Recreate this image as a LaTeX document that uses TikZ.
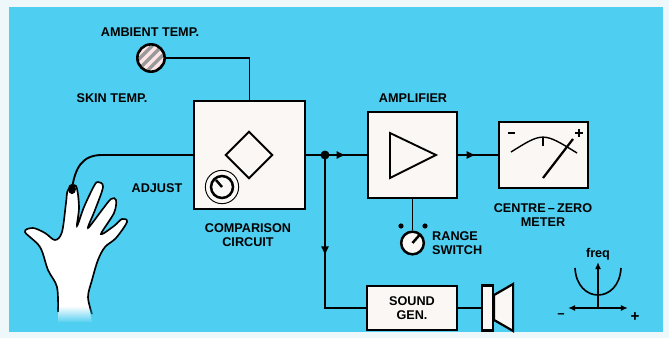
\documentclass[tikz,border=0pt]{standalone}
\usepackage{fontspec}
\setmainfont{Liberation Sans}
\usetikzlibrary{arrows.meta,shapes.geometric,decorations.markings,fadings}
\definecolor{panel}{RGB}{78,206,240}
\definecolor{rim}{RGB}{238,247,250}
\definecolor{paper}{RGB}{250,247,244}
\tikzset{
  blk/.style={draw,line width=1.9pt,fill=paper,inner sep=0pt},
  lbl/.style={font=\fontsize{10.8}{12.5}\selectfont\bfseries,align=center,inner sep=0pt},
  wire/.style={line width=1.6pt},
  midarrow/.style={postaction={decorate},decoration={markings,mark=at position #1 with {\arrow{Latex[length=8pt,width=7pt]}}}},
}
\begin{document}
\begin{tikzpicture}[x=0.03cm,y=-0.03cm]
        \useasboundingbox (0,0) rectangle (669,338);
        %% Panel
        \fill[rim] (0,0) rectangle (669,338);
        \fill[panel] (9,7) rectangle (663,332);
        %% Blocks
        \node[blk,minimum width=3.33cm,minimum height=3.24cm] (cmp) at (249.5,155) {};
        \node[blk,minimum width=2.67cm,minimum height=2.58cm] (amp) at (412.5,155) {};
        \node[blk,minimum width=2.67cm,minimum height=1.98cm] (mtr) at (543.5,155) {};
        \node[blk,lbl,minimum width=2.7cm,minimum height=1.32cm] (sg) at (412,308) {SOUND\\GEN.};
        \node[blk,minimum width=0.33cm,minimum height=1.35cm] (spk) at (487.5,308) {};
        \draw[line width=1.9pt,fill=paper] (spk.east) ++(0,-13) -- ++(19,-11) -- ++(0,47) -- ++(-19,-11) -- cycle;
        %% Sensor
        \node[circle,draw,line width=2.2pt,fill=gray!80,minimum size=0.82cm,inner sep=0pt,
          path picture={\foreach \k in {-16,-6,4,14}
            \draw[white!90!red,line width=3pt,shift={(path picture bounding box.center)}] (\k-20,20) -- ++(40,-40);}] (amb) at (151,58) {};
        %% Comparison circuit
        \node[draw,diamond,line width=1.6pt,minimum width=1.42cm,minimum height=1.42cm,inner sep=0pt] (cmpr) at (249,155) {};
        \node[circle,draw,line width=0.8pt,minimum size=1.0cm,inner sep=0pt] (adj) at (222,187) {};
        \node[circle,draw,line width=2.1pt,minimum size=0.66cm,inner sep=0pt] (adjk) at (adj.center) {};
        \draw[line width=2.1pt] (adj.center) -- ++(-6,-7);
        %% Amplifier
        \draw[line width=1.6pt] (390,133) -- (436,155) -- (390,178) -- cycle;
        \node[circle,draw,line width=2.1pt,fill=paper,minimum size=0.68cm,inner sep=0pt] (rng) at (412.5,243) {};
        \draw[line width=2.1pt] (rng.center) -- ++(7,-8);
        \fill (401,226) circle[radius=2.2pt] (425,226) circle[radius=2.2pt];
        %% Meter face
        \draw[line width=1.2pt] (511,152) .. controls (543,132) .. (577,153);
        \draw[line width=1.4pt] (543,138) -- (543,146);
        \draw[line width=1.9pt] (543,178) -- (573,139);
        \draw[line width=1.5pt] (508,133) -- (515,133);
        \draw[line width=1.5pt] (575,133) -- (583,133) (579,129) -- (579,137);
        %% Hand
        \fill[white] plot[smooth,tension=0.55] coordinates {
          (58,322) (57,287) (48,270) (40,247) (25,232) (33,228) (45,233) (55,240)
          (62,232) (66,203) (68,190) (76,186) (79,207) (77,226)
          (84,207) (94,186) (98,182) (103,187) (95,210) (88,228)
          (102,210) (111,199) (116,200) (114,213) (101,234)
          (114,226) (122,219) (127,222) (116,238) (105,247)
          (98,260) (92,280) (88,297) (92,322)} -- cycle;
        \draw[line width=1.4pt] plot[smooth,tension=0.55] coordinates {
          (58,312) (57,287) (48,270) (40,247) (25,232) (33,228) (45,233) (55,240)
          (62,232) (66,203) (68,190) (76,186) (79,207) (77,226)
          (84,207) (94,186) (98,182) (103,187) (95,210) (88,228)
          (102,210) (111,199) (116,200) (114,213) (101,234)
          (114,226) (122,219) (127,222) (116,238) (105,247)
          (98,260) (92,280) (88,297) (92,314)};
        \fill[panel,path fading=north] (50,306) rectangle (100,323);
        \coordinate (tip) at (72,189);
        \fill (tip) ellipse[x radius=3.4pt,y radius=4.4pt];
        %% Wires
        \coordinate (jn) at (325,155);
        \draw[wire] (amb.east) -| (cmp.north);
        \draw[wire] (cmp.west) -- (102,155) .. controls (82,155) and (75,168) .. (tip);
        \draw[wire] (cmp.east) -- (jn);
        \draw[wire,midarrow=0.5] (jn) -- (amp.west);
        \draw[wire,midarrow=0.52] (jn) |- (sg.west);
        \draw[wire,midarrow=0.45] (amp.east) -- (mtr.west);
        \draw[wire] (amp.south) -- (rng.north);
        \draw[wire] (sg.east) -- (spk.west);
        \fill (jn) circle[radius=3.8pt];
        %% Frequency sketch
        \coordinate (org) at (598,308);
        \draw[line width=1.8pt,-{Latex[length=6pt,width=5pt]}] (org) -- (598,262) node[lbl,anchor=south,yshift=1pt] (fq) {freq};
        \draw[line width=1.8pt,{Latex[length=6pt,width=5pt]}-{Latex[length=6pt,width=5pt]}] (568,308) -- (628,308);
        \draw[line width=1.4pt] (575,268) .. controls (577,304) and (619,304) .. (621,268);
        \node[lbl] (mn) at (561,316) {\textminus};
        \node[lbl,font=\fontsize{13}{13}\selectfont\bfseries] (pl) at (635,317) {+};
        %% Labels
        \node[lbl] (tamb) at (150,32) {AMBIENT TEMP.};
        \node[lbl] (tskin) at (112,98) {SKIN TEMP.};
        \node[lbl] (tadj) at (157,188) {ADJUST};
        \node[lbl] (tcmp) at (248,235) {COMPARISON\\CIRCUIT};
        \node[lbl] (tamp) at (413,98) {AMPLIFIER};
        \node[lbl,align=left,anchor=west] (trng) at (432,243) {RANGE\\SWITCH};
        \node[lbl] (tmtr) at (543,215) {CENTRE\,--\,ZERO\\METER};
\end{tikzpicture}
\end{document}
